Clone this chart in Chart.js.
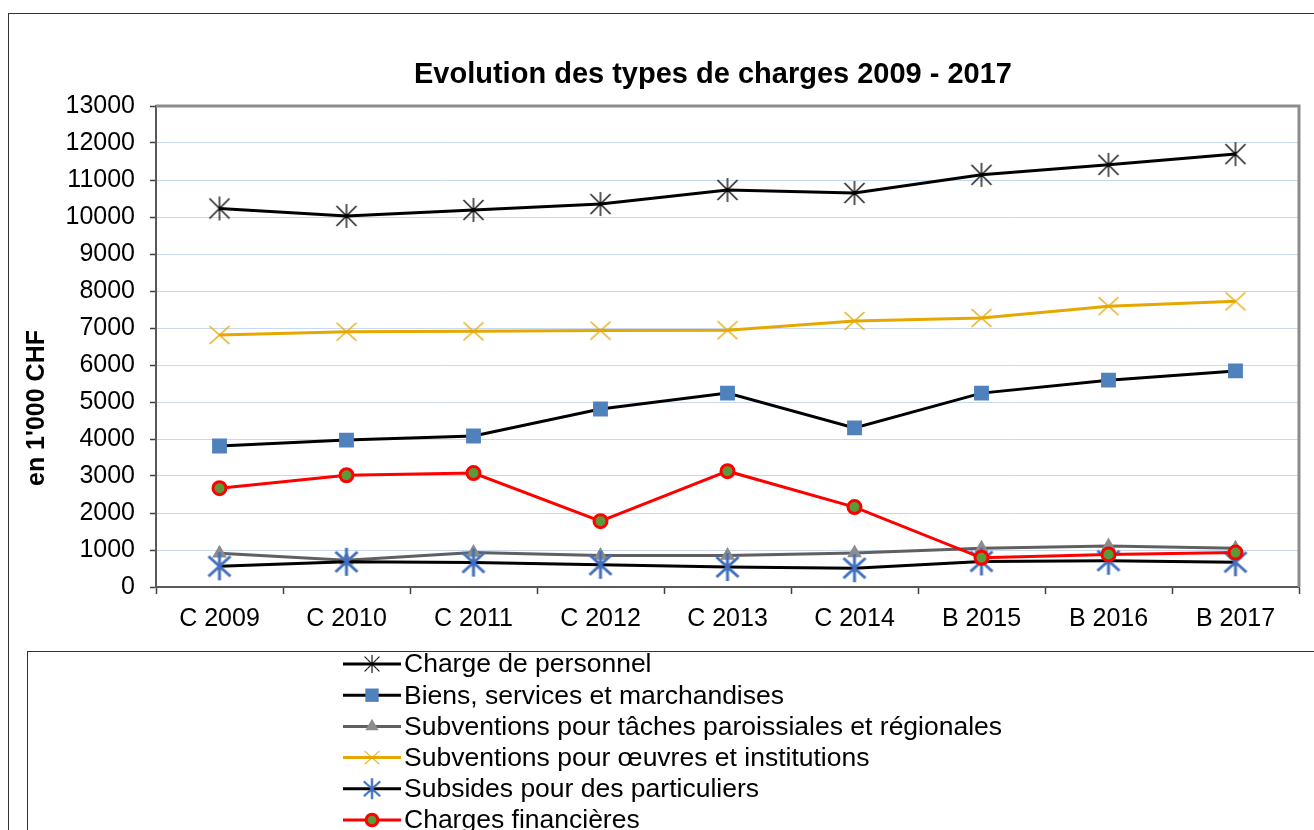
<!DOCTYPE html>
<html>
<head>
<meta charset="utf-8">
<script src="https://cdn.jsdelivr.net/npm/chart.js@4.4.1/dist/chart.umd.min.js"></script>
<style>
  html, body { margin: 0; padding: 0; background: #ffffff; }
  #wrap { position: relative; width: 1314px; height: 830px; }
  canvas { display: block; }
</style>
</head>
<body>
<div id="wrap"><canvas id="c" width="1314" height="830"></canvas></div>
<script>
// ---- Data ----
const categories = ['C 2009', 'C 2010', 'C 2011', 'C 2012', 'C 2013', 'C 2014', 'B 2015', 'B 2016', 'B 2017'];
const chargePersonnel = [10230, 10030, 10190, 10350, 10730, 10650, 11140, 11410, 11700];
const biensServices = [3810, 3970, 4080, 4810, 5240, 4300, 5240, 5590, 5840];
const subvTaches = [910, 720, 930, 850, 850, 920, 1050, 1110, 1050];
const subvOeuvres = [6810, 6900, 6910, 6930, 6940, 7190, 7270, 7590, 7720];
const subsidesParticuliers = [560, 680, 660, 600, 540, 510, 690, 710, 670];
const chargesFinancieres = [2670, 3020, 3080, 1780, 3130, 2160, 790, 880, 930];
const seriesNames = [
  'Charge de personnel',
  'Biens, services et marchandises',
  'Subventions pour tâches paroissiales et régionales',
  'Subventions pour œuvres et institutions',
  'Subsides pour des particuliers',
  'Charges financières'
];
const chartTitle = 'Evolution des types de charges 2009 - 2017';
const yAxisTitle = "en 1'000 CHF";
const yMin = 0, yMax = 13000, yStep = 1000;

// ---- Custom marker images ----
function makeMarker(w, h, color, lw, segs) {
  const c = document.createElement('canvas');
  c.width = w; c.height = h;
  const g = c.getContext('2d');
  g.strokeStyle = color; g.lineWidth = lw; g.lineCap = 'butt';
  const cx = w / 2, cy = h / 2;
  g.beginPath();
  segs.forEach(s => { g.moveTo(cx + s[0], cy + s[1]); g.lineTo(cx + s[2], cy + s[3]); });
  g.stroke();
  return c;
}
const starBlack = makeMarker(24, 26, '#000000', 1.3, [[-10,-10,10,10],[-10,10,10,-10],[0,-12,0,12]]);
const xOrange = makeMarker(22, 20, '#E6A700', 1.3, [[-10,-9,10,9],[-10,9,10,-9]]);
const starBlue = makeMarker(28, 30, '#4270BF', 3, [[-11,-10,11,10],[-11,10,11,-10],[0,-14,0,14]]);

const FONT = "'Liberation Sans', Arial, sans-serif";

const datasets = [
  { label: seriesNames[0], data: chargePersonnel, borderColor: '#000000', borderWidth: 3,
    pointStyle: starBlack, pointRadius: 10, backgroundColor: '#000000' },
  { label: seriesNames[1], data: biensServices, borderColor: '#000000', borderWidth: 3,
    pointStyle: 'rect', pointRadius: 10.5, pointBackgroundColor: '#4F81BD', pointBorderWidth: 0, backgroundColor: '#4F81BD' },
  { label: seriesNames[2], data: subvTaches, borderColor: '#606060', borderWidth: 3,
    pointStyle: 'triangle', pointRadius: 8.5, pointBackgroundColor: '#8C8C8C', pointBorderWidth: 0, backgroundColor: '#8C8C8C' },
  { label: seriesNames[3], data: subvOeuvres, borderColor: '#E6A700', borderWidth: 3,
    pointStyle: xOrange, pointRadius: 10, backgroundColor: '#E6A700' },
  { label: seriesNames[4], data: subsidesParticuliers, borderColor: '#000000', borderWidth: 3,
    pointStyle: starBlue, pointRadius: 12, backgroundColor: '#4270BF' },
  { label: seriesNames[5], data: chargesFinancieres, borderColor: '#FF0000', borderWidth: 3,
    pointStyle: 'circle', pointRadius: 6.5, pointBackgroundColor: '#5B9A3A', pointBorderColor: '#FF0000', pointBorderWidth: 3, backgroundColor: '#5B9A3A' }
];
datasets.forEach((d, i) => { d.order = datasets.length - 1 - i; d.tension = 0; d.fill = false; d.pointHoverRadius = d.pointRadius; });

// ---- Plugin: frames, title, plot border, y-axis title, legend ----
const decor = {
  id: 'decor',
  beforeDraw(chart) {
    const ctx = chart.ctx;
    ctx.save();
    ctx.fillStyle = '#ffffff';
    ctx.fillRect(0, 0, chart.width, chart.height);
    ctx.restore();
  },
  afterDatasetsDraw(chart) {
    const ctx = chart.ctx, a = chart.chartArea;
    ctx.save();
    ctx.strokeStyle = '#8C8C8C'; ctx.lineWidth = 3;
    ctx.beginPath();
    ctx.moveTo(a.left, a.top); ctx.lineTo(a.right, a.top); ctx.lineTo(a.right, a.bottom);
    ctx.stroke();
    ctx.restore();
  },
  afterDraw(chart) {
    const ctx = chart.ctx, a = chart.chartArea;
    ctx.save();
    // outer frame
    ctx.strokeStyle = '#333333'; ctx.lineWidth = 1;
    ctx.strokeRect(8.5, 13.5, 1340, 860);
    // chart title
    ctx.fillStyle = '#000000';
    ctx.font = "bold 29px " + FONT;
    ctx.textAlign = 'center'; ctx.textBaseline = 'middle';
    ctx.fillText(chartTitle, 713, 75);
    // y axis title
    ctx.save();
    ctx.translate(37, 408);
    ctx.rotate(-Math.PI / 2);
    ctx.font = "bold 25px " + FONT;
    ctx.textAlign = 'center'; ctx.textBaseline = 'middle';
    ctx.fillText(yAxisTitle, 0, 0);
    ctx.restore();
    // legend box
    ctx.strokeStyle = '#333333'; ctx.lineWidth = 1;
    ctx.strokeRect(27.5, 651.5, 1340, 300);
    // legend items
    const x0 = 343, x1 = 401, xm = 372, tx = 404, yStart = 664, dy = 31.2;
    chart.data.datasets.forEach((ds, i) => {
      const y = yStart + i * dy;
      ctx.strokeStyle = ds.borderColor; ctx.lineWidth = ds.borderWidth;
      ctx.beginPath(); ctx.moveTo(x0, y); ctx.lineTo(x1, y); ctx.stroke();
      const meta = chart.getDatasetMeta(i);
      const el = meta.data[0];
      if (el) {
        const o = el.options;
        ctx.fillStyle = o.backgroundColor; ctx.strokeStyle = o.borderColor; ctx.lineWidth = o.borderWidth;
        const st = o.pointStyle;
        if (typeof st === 'object') {
          ctx.save(); ctx.translate(xm, y); ctx.scale(0.75, 0.75);
          ctx.drawImage(st, -st.width / 2, -st.height / 2);
          ctx.restore();
        } else if (Chart.helpers && Chart.helpers.drawPoint) {
          Chart.helpers.drawPoint(ctx, { pointStyle: st, radius: o.radius * 0.9, rotation: 0, borderWidth: o.borderWidth }, xm, y);
        }
      }
      ctx.fillStyle = '#000000';
      ctx.font = "26.5px " + FONT;
      ctx.textAlign = 'left'; ctx.textBaseline = 'middle';
      ctx.fillText(ds.label, tx, y + 1);
    });
    ctx.restore();
  }
};

new Chart(document.getElementById('c'), {
  type: 'line',
  data: { labels: categories, datasets: datasets },
  options: {
    responsive: false,
    animation: false,
    devicePixelRatio: 1,
    layout: { padding: { left: 0, right: 15, top: 106, bottom: 0 } },
    plugins: {
      legend: { display: false },
      tooltip: { enabled: false },
      title: { display: false }
    },
    scales: {
      x: {
        type: 'category',
        offset: true,
        grid: { display: true, drawOnChartArea: false, offset: true, tickLength: 7, tickColor: '#404040', tickWidth: 1.5 },
        border: { display: true, color: '#595959', width: 2 },
        ticks: { color: '#000000', font: { family: FONT, size: 25 }, padding: 10, maxRotation: 0, autoSkip: false },
        afterFit(scale) { scale.height = 243; }
      },
      y: {
        min: yMin, max: yMax,
        grid: { color: '#C6D9F1', lineWidth: 1, tickLength: 6, tickColor: '#404040', tickWidth: 1.5 },
        border: { display: true, color: '#595959', width: 2 },
        ticks: { stepSize: yStep, color: '#000000', font: { family: FONT, size: 25 }, padding: 15,
                 callback: v => String(v) },
        afterFit(scale) { scale.width = 156; }
      }
    }
  },
  plugins: [decor]
});
</script>
</body>
</html>
